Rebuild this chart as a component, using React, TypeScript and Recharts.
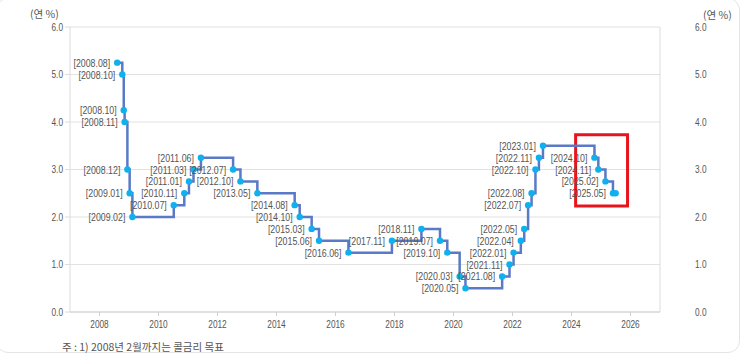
import { LineChart, Line, XAxis, YAxis, CartesianGrid, LabelList, ReferenceArea } from 'recharts';

// 한국은행 기준금리 변경일, 금리(%)
const LABELS = [
  '2008.08', '2008.10', '2008.10', '2008.11', '2008.12', '2009.01', '2009.02',
  '2010.07', '2010.11', '2011.01', '2011.03', '2011.06', '2012.07', '2012.10',
  '2013.05', '2014.08', '2014.10', '2015.03', '2015.06', '2016.06', '2017.11',
  '2018.11', '2019.07', '2019.10', '2020.03', '2020.05', '2021.08', '2021.11',
  '2022.01', '2022.04', '2022.05', '2022.07', '2022.08', '2022.10', '2022.11',
  '2023.01', '2024.10', '2024.11', '2025.02', '2025.05', '',
];
const DATES = [
  '2008-08-07', '2008-10-09', '2008-10-27', '2008-11-07', '2008-12-11', '2009-01-09', '2009-02-12',
  '2010-07-09', '2010-11-16', '2011-01-13', '2011-03-10', '2011-06-10', '2012-07-12', '2012-10-11',
  '2013-05-09', '2014-08-14', '2014-10-15', '2015-03-12', '2015-06-11', '2016-06-09', '2017-11-30',
  '2018-11-30', '2019-07-18', '2019-10-16', '2020-03-17', '2020-05-28', '2021-08-26', '2021-11-25',
  '2022-01-14', '2022-04-14', '2022-05-26', '2022-07-13', '2022-08-25', '2022-10-12', '2022-11-24',
  '2023-01-13', '2024-10-11', '2024-11-28', '2025-02-25', '2025-05-29', '2025-07-01',
];
const RATES = [
  5.25, 5.0, 4.25, 4.0, 3.0, 2.5, 2.0,
  2.25, 2.5, 2.75, 3.0, 3.25, 3.0, 2.75,
  2.5, 2.25, 2.0, 1.75, 1.5, 1.25, 1.5,
  1.75, 1.5, 1.25, 0.75, 0.5, 0.75, 1.0,
  1.25, 1.5, 1.75, 2.25, 2.5, 3.0, 3.25,
  3.5, 3.25, 3.0, 2.75, 2.5, 2.5,
];
const X_TICKS = [2008, 2010, 2012, 2014, 2016, 2018, 2020, 2022, 2024, 2026];
const Y_TICKS = [0, 1, 2, 3, 4, 5, 6];
// 강조 박스 (연도, %)
const HIGHLIGHT = { x1: 2024.14, x2: 2025.9, y1: 2.23, y2: 3.73 };

const FONT = "'Liberation Sans', 'Noto Sans CJK KR', sans-serif";
const KFONT = "'Noto Sans CJK KR', sans-serif";
const TEXT = '#555';
const NARROW = 0.83;

const toYear = (s: string) => {
  const [y, m, d] = s.split('-').map(Number);
  const start = Date.UTC(y, 0, 1);
  return y + (Date.UTC(y, m - 1, d) - start) / (365 * 86400000);
};

const data = DATES.map((d, i) => ({ x: toYear(d), rate: RATES[i], label: LABELS[i] }));

// 좁은 글꼴 흉내
const narrowTick = (anchor: string, dy: string, fmt: (v: number) => string) => (props: any) => {
  const { x, y, payload } = props;
  return (
    <text
      transform={`translate(${x},${y}) scale(${NARROW},1)`}
      textAnchor={anchor}
      dy={dy}
      fontSize={10}
      fill={TEXT}
      fontFamily={FONT}
    >
      {fmt(payload.value)}
    </text>
  );
};

const renderLabel = (props: any) => {
  const { x, y, value } = props;
  if (!value) return null;
  return (
    <text
      transform={`translate(${x - 7},${y}) scale(0.84,1)`}
      dy={4}
      textAnchor="end"
      fontSize={10.5}
      fill={TEXT}
      fontFamily={FONT}
    >
      [{value}]
    </text>
  );
};

const fmt1 = (v: number) => v.toFixed(1);
const fmtYear = (v: number) => String(v);

export default function App() {
  return (
    <div style={{ position: 'absolute', left: 0, top: 0, width: 743, height: 355, background: '#fff', overflow: 'hidden' }}>
      <div
        style={{
          position: 'absolute', left: -4, top: -2, width: 744, height: 355,
          border: '1px solid #e4e4e4', borderRadius: 12, boxSizing: 'border-box',
        }}
      />
      <div style={{ position: 'absolute', left: 30, top: 6, fontSize: 10.5, color: TEXT, fontFamily: KFONT }}>(연 %)</div>
      <div style={{ position: 'absolute', left: 703, top: 7, fontSize: 10.5, color: TEXT, fontFamily: KFONT }}>(연 %)</div>
      <LineChart width={743} height={355} data={data} margin={{ top: 27, right: 0, bottom: 18, left: 0 }}>
        <CartesianGrid vertical={false} stroke="#e2e2e2" />
        <XAxis
          dataKey="x"
          type="number"
          domain={[2007, 2027]}
          ticks={X_TICKS}
          height={25}
          stroke="#cfcfcf"
          tickSize={4}
          tickMargin={5}
          tick={narrowTick('middle', '0.71em', fmtYear)}
        />
        <YAxis
          domain={[0, 6]}
          ticks={Y_TICKS}
          width={70}
          stroke="#dcdcdc"
          tickSize={5}
          tickMargin={2}
          tick={narrowTick('end', '0.355em', fmt1)}
        />
        <YAxis
          yAxisId="r"
          orientation="right"
          domain={[0, 6]}
          ticks={Y_TICKS}
          width={83}
          stroke="#dcdcdc"
          tickLine={false}
          tickSize={0}
          tickMargin={35}
          tick={narrowTick('start', '0.355em', fmt1)}
        />
        <ReferenceArea
          x1={HIGHLIGHT.x1}
          x2={HIGHLIGHT.x2}
          y1={HIGHLIGHT.y1}
          y2={HIGHLIGHT.y2}
          fill="none"
          fillOpacity={0}
          stroke="#e8141c"
          strokeWidth={3}
          ifOverflow="visible"
        />
        {/* 오른쪽 축 눈금 표시용 (보이지 않음) */}
        <Line
          yAxisId="r"
          dataKey="rate"
          stroke="none"
          dot={false}
          activeDot={false}
          isAnimationActive={false}
        />
        <Line
          type="stepAfter"
          dataKey="rate"
          stroke="#5a79c6"
          strokeWidth={2.5}
          dot={{ r: 3.2, fill: '#0fb0ee', stroke: '#0fb0ee', strokeWidth: 0 }}
          activeDot={false}
          isAnimationActive={false}
        >
          <LabelList dataKey="label" content={renderLabel} />
        </Line>
      </LineChart>
      <div style={{ position: 'absolute', left: 62, top: 339, fontSize: 10.5, color: TEXT, fontFamily: KFONT, whiteSpace: 'nowrap' }}>
        주 : 1) 2008년 2월까지는 콜금리 목표
      </div>
    </div>
  );
}
